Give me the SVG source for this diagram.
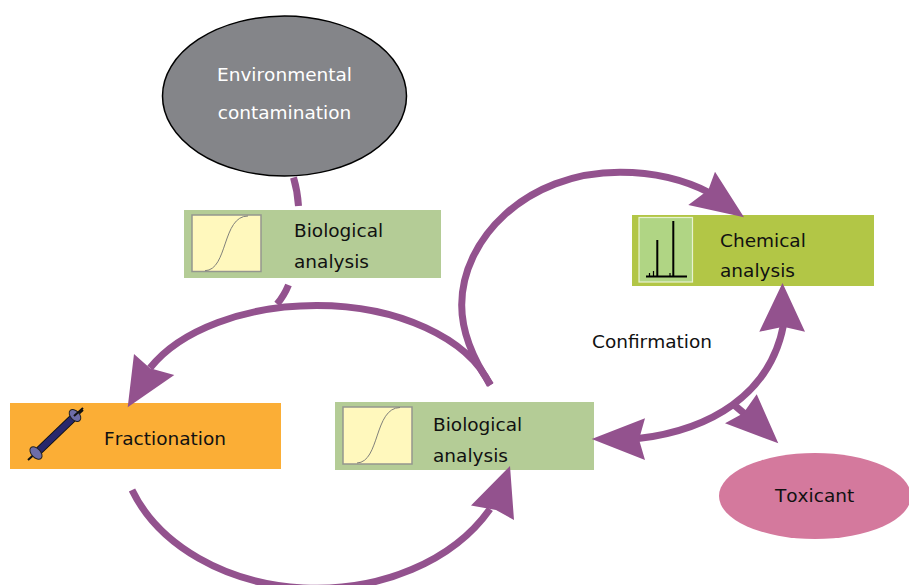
<svg xmlns="http://www.w3.org/2000/svg" width="909" height="585" viewBox="0 0 909 585">
<style>
text{font-family:"DejaVu Sans",Verdana,sans-serif;font-size:18.500px;fill:#111;font-kerning:none}
.c{fill:none;stroke:#93528e;stroke-width:7}
.h{fill:#93528e}
.chart{fill:#fff8bd;stroke:#94968f;stroke-width:1.500}
.curve{fill:none;stroke:#80807a;stroke-width:1}
.cap{fill:#6d6da8;stroke:#222;stroke-width:1}
</style>
<rect width="909" height="585" fill="#fff"/>
<g id="env"><ellipse cx="284.500" cy="96" rx="122" ry="80" fill="#848589" stroke="#000" stroke-width="1.500"/><text x="284.500" y="81" text-anchor="middle" style="fill:#fff">Environmental</text><text x="284.500" y="119" text-anchor="middle" style="fill:#fff">contamination</text></g>
<g id="bio1"><rect x="184" y="210" width="257" height="68" fill="#b4cc96"/><rect class="chart" x="192" y="215" width="69" height="56.500"/><path class="curve" d="M205 270.700C228 270 222 216 248 216"/><text x="294" y="237">Biological</text><text x="294" y="268">analysis</text></g>
<g id="frac"><rect x="10" y="403" width="271" height="66" fill="#fbae36"/><path d="M28 460L83 410" stroke="#111" stroke-width="2" fill="none"/><path d="M36.500 453L74 417" stroke="#111" stroke-width="8" fill="none"/><path d="M36.500 453L74 417" stroke="#28286c" stroke-width="6.500" fill="none"/><ellipse class="cap" cx="36" cy="453" rx="7.500" ry="4.500" transform="rotate(47 36 453)"/><ellipse class="cap" cx="75" cy="415.500" rx="7" ry="4.500" transform="rotate(47 75 415.500)"/><path d="M74 416L83 408" stroke="#111" stroke-width="2" fill="none"/><text x="104" y="445">Fractionation</text></g>
<g id="bio2"><rect x="335" y="402" width="259" height="68" fill="#b4cc96"/><rect class="chart" x="343" y="407" width="69" height="57"/><path class="curve" d="M357 463C380 462 374 408 400 407.500"/><text x="433" y="431">Biological</text><text x="433" y="462">analysis</text></g>
<g id="chem"><rect x="632" y="215" width="242" height="71" fill="#b2c646"/><rect x="639" y="217.500" width="53.500" height="64.500" fill="#b0d584" stroke="#e8f2d0" stroke-width="1.200"/><path d="M646 276.500H687" stroke="#000" stroke-width="2" fill="none"/><path d="M657.300 277V240M673.300 277V221" stroke="#000" stroke-width="2" fill="none"/><path d="M649.500 276V273M653.500 276V271M670 276V273" stroke="#000" stroke-width="1.200" fill="none"/><text x="720" y="247">Chemical</text><text x="720" y="277">analysis</text></g>
<g id="toxicant"><ellipse cx="815" cy="496" rx="96" ry="43" fill="#d4799d"/><text x="775" y="502">Toxicant</text></g>
<g id="confirmation"><text x="592" y="348">Confirmation</text></g>
<g id="connectors">
<path class="c" d="M293.500 177.500Q297.500 191 298.500 206"/>
<path class="c" d="M288.500 285Q284 296 277 304"/>
<path class="c" d="M490 385A180 108.600 0 0 0 316.700 305.500A184 108.600 0 0 0 150 368"/>
<polygon class="h" points="127.700,407.300 134,354 150,368.300 174.300,375"/>
<path class="c" d="M132 490A197 151 0 0 0 490 509"/>
<polygon class="h" points="510,466 514,520 496,510 471,505.500"/>
<path class="c" d="M490.700 385C475 362 461.700 335 461.700 305C461.700 240 525 172.300 620 172.300C655 172.300 685 180 710 193"/>
<polygon class="h" points="744,217.300 688.300,205 708.300,190 715,171.700"/>
<path class="c" d="M783.500 325C770 395 710 430 638 438.600"/>
<polygon class="h" points="591.700,439 645,418.300 639,439.500 645,460"/>
<polygon class="h" points="782.500,283 805,331.700 783.300,326.700 759.300,331.700"/>
<path class="c" d="M733 404L746 415"/>
<polygon class="h" points="778.300,443.300 725,423.300 743.300,413.300 756.700,394.300"/>
</g>
</svg>
